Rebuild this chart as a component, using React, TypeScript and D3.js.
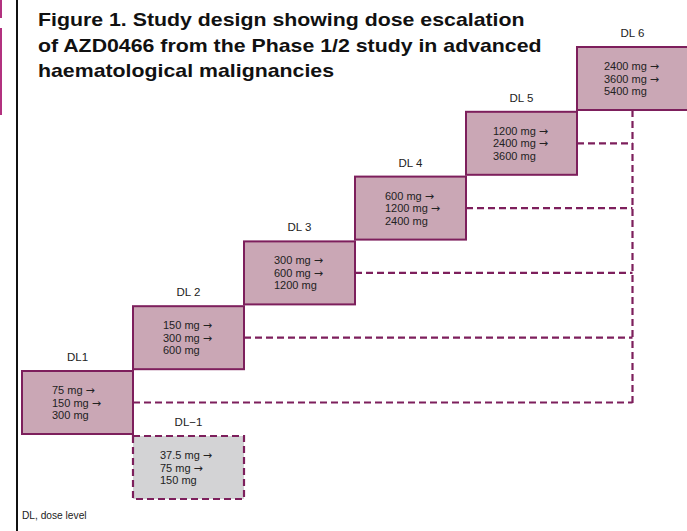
import React, { useEffect, useRef } from 'react';
import * as d3 from 'd3';

// dose levels, in escalation order (step index 0..5)
const levelLabels = ['DL1', 'DL 2', 'DL 3', 'DL 4', 'DL 5', 'DL 6'];
const levelDoses = [
  ['75 mg', '150 mg', '300 mg'],
  ['150 mg', '300 mg', '600 mg'],
  ['300 mg', '600 mg', '1200 mg'],
  ['600 mg', '1200 mg', '2400 mg'],
  ['1200 mg', '2400 mg', '3600 mg'],
  ['2400 mg', '3600 mg', '5400 mg'],
];
// de-escalation level, sits under DL 2 column
const deLabel = 'DL−1';
const deDoses = ['37.5 mg', '75 mg', '150 mg'];

const titleLines = [
  'Figure 1. Study design showing dose escalation',
  'of AZD0466 from the Phase 1/2 study in advanced',
  'haematological malignancies',
];
const footnote = 'DL, dose level';

const W = 687;
const H = 531;
const PURPLE = '#7d1f5c';
const FILL = '#caa7b5';
const GREY = '#d3d3d5';

const App = () => {
  const svgRef = useRef<SVGSVGElement>(null);

  useEffect(() => {
    const svg = d3.select(svgRef.current);
    svg.selectAll('*').remove();
    svg.attr('width', W).attr('height', H);

    const font = 'Liberation Sans, Arial, sans-serif';

    // column / row positions of the staircase
    const x = d3.scaleLinear().domain([0, 6]).range([22, 688]);
    const yTop = d3.scaleLinear().domain([0, 5]).range([371, 47]);
    const boxW = x(1) - x(0);
    const boxH = 63;

    // page furniture: left rule and stray marks at the edge
    svg.append('line')
      .attr('x1', 17).attr('x2', 17).attr('y1', 0).attr('y2', H)
      .attr('stroke', '#111').attr('stroke-width', 2);
    svg.append('rect').attr('x', 0).attr('y', 0).attr('width', 2).attr('height', 18).attr('fill', '#b2317f');
    svg.append('rect').attr('x', 0).attr('y', 28).attr('width', 2).attr('height', 87).attr('fill', '#b2317f');

    // title (the original type is set wide, so stretch it horizontally)
    const title = svg.append('text')
      .attr('transform', 'translate(38,0) scale(1.184,1)')
      .attr('font-family', font)
      .attr('font-weight', 'bold')
      .attr('font-size', 18)
      .attr('fill', '#111');
    titleLines.forEach((t, i) => {
      title.append('tspan').attr('x', 0).attr('y', 26.5 + i * 25.5).text(t);
    });

    const guideX = x(5) + boxW / 2;

    // dashed guide lines from each step to the right-hand column
    levelDoses.forEach((_, i) => {
      if (i === 5) return;
      const yy = yTop(i) + boxH / 2;
      svg.append('line')
        .attr('x1', x(i + 1)).attr('x2', guideX)
        .attr('y1', yy).attr('y2', yy)
        .attr('stroke', PURPLE).attr('stroke-width', 2.2)
        .attr('stroke-dasharray', '7,4');
    });
    svg.append('line')
      .attr('x1', guideX).attr('x2', guideX)
      .attr('y1', yTop(5) + boxH).attr('y2', yTop(0) + boxH / 2 + 1)
      .attr('stroke', PURPLE).attr('stroke-width', 2.2)
      .attr('stroke-dasharray', '7,4');

    const drawBox = (col, top, label, doses, dashed) => {
      const g = svg.append('g');
      g.append('rect')
        .attr('x', x(col)).attr('y', top)
        .attr('width', boxW).attr('height', boxH)
        .attr('fill', dashed ? GREY : FILL)
        .attr('stroke', PURPLE)
        .attr('stroke-width', dashed ? 2.2 : 2)
        .attr('stroke-dasharray', dashed ? '7,4' : null);
      g.append('text')
        .attr('x', x(col) + boxW / 2).attr('y', top - 10)
        .attr('text-anchor', 'middle')
        .attr('font-family', font).attr('font-size', 11.5)
        .attr('fill', '#222')
        .text(label);
      const offset = doses[0].length > 6 ? 27 : 30;
      const t = g.append('text')
        .attr('font-family', font).attr('font-size', 11)
        .attr('fill', '#222');
      doses.forEach((d, j) => {
        t.append('tspan')
          .attr('x', x(col) + offset)
          .attr('y', top + 23 + j * 12.5)
          .text(d);
        if (j < doses.length - 1) {
          t.append('tspan')
            .attr('font-family', 'DejaVu Sans, sans-serif')
            .attr('font-size', 11)
            .attr('dx', 3)
            .text('→');
        }
      });
    };

    levelDoses.forEach((doses, i) => drawBox(i, yTop(i), levelLabels[i], doses, false));
    drawBox(1, 436, deLabel, deDoses, true);

    svg.append('text')
      .attr('x', 22).attr('y', 519)
      .attr('font-family', font).attr('font-size', 10.2)
      .attr('fill', '#222')
      .text(footnote);
  }, []);

  return (
    <div style={{ position: 'absolute', left: 0, top: 0, background: '#fff' }}>
      <svg ref={svgRef} style={{ display: 'block' }}></svg>
    </div>
  );
};

export default App;
